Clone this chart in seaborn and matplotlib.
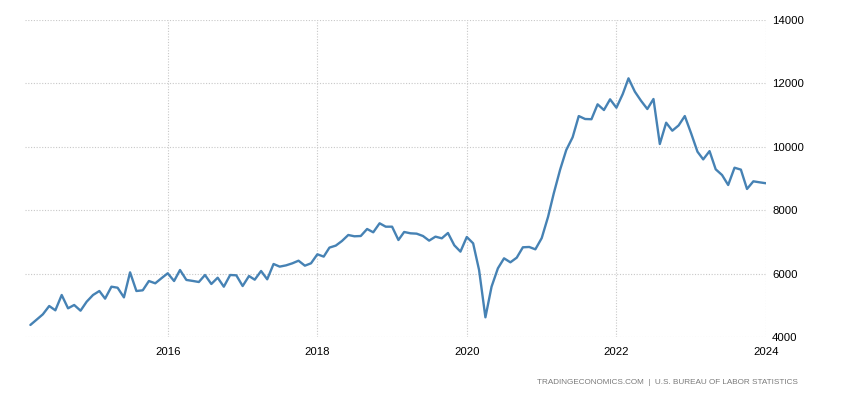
import matplotlib
matplotlib.use("Agg")
import matplotlib.pyplot as plt
import matplotlib.dates as mdates
import seaborn as sns
import pandas as pd

# Job openings, thousands, monthly from Mar 2014 to Jan 2024
start_month = "2014-03-01"
openings = [
    4380, 4550, 4716, 4978, 4842, 5325, 4905, 5010, 4830, 5114,
    5325, 5451, 5210, 5587, 5555, 5250, 6040, 5451, 5473, 5766, 5694, 5852,
    6010, 5766, 6113, 5800, 5770, 5735, 5956, 5672, 5871, 5587, 5956, 5946,
    5608, 5924, 5808, 6082, 5820, 6303, 6220, 6260, 6325, 6407, 6250, 6325,
    6609, 6536, 6820, 6883, 7028, 7218, 7177, 7186, 7407, 7303, 7587, 7480,
    7480, 7060, 7313, 7271, 7260, 7186, 7040, 7166, 7113, 7281, 6893, 6693,
    7155, 6955, 6114, 4621, 5587, 6167, 6482, 6356, 6503, 6830, 6840, 6766,
    7120, 7790, 8533, 9280, 9900, 10300, 10970, 10877, 10870, 11340, 11160, 11498,
    11233, 11666, 12160, 11740, 11454, 11192, 11508, 10088, 10760, 10508, 10675, 10970,
    10423, 9845, 9603, 9864, 9290, 9110, 8795, 9340, 9280, 8670, 8911, 8880,
    8850,
]
y_ticks = [4000, 6000, 8000, 10000, 12000, 14000]
source_text = "TRADINGECONOMICS.COM  |  U.S. BUREAU OF LABOR STATISTICS"

df = pd.DataFrame({
    "date": pd.date_range(start_month, periods=len(openings), freq="MS"),
    "value": openings,
})

sns.set_theme(style="white")
plt.rcParams["font.family"] = ["Liberation Sans", "DejaVu Sans"]

fig = plt.figure(figsize=(8.5, 4), dpi=100)
ax = fig.add_axes([0.029, 0.1575, 0.872, 0.7925])

sns.lineplot(data=df, x="date", y="value", ax=ax, color="#4682b4", linewidth=1.7)

ax.set_xlim(pd.Timestamp("2014-02-01"), pd.Timestamp("2024-01-01"))
ax.set_ylim(4000, 14000)
ax.set_yticks(y_ticks)
ax.yaxis.tick_right()
ax.xaxis.set_major_locator(mdates.YearLocator(2))
ax.xaxis.set_major_formatter(mdates.DateFormatter("%Y"))
ax.set_xlabel("")
ax.set_ylabel("")

ax.grid(True, color="#c8c8c8", linestyle=(0, (1, 1.5)), linewidth=0.8)
for s in ax.spines.values():
    s.set_visible(False)
ax.tick_params(axis="both", labelsize=8.2, colors="#000000", length=0)
ax.tick_params(axis="x", pad=7)
ax.tick_params(axis="y", pad=4.5)

fig.text(0.939, 0.045, source_text, ha="right", va="center",
         fontsize=5.9, color="#7a7a7a")

fig.savefig("out.png", dpi=100)
